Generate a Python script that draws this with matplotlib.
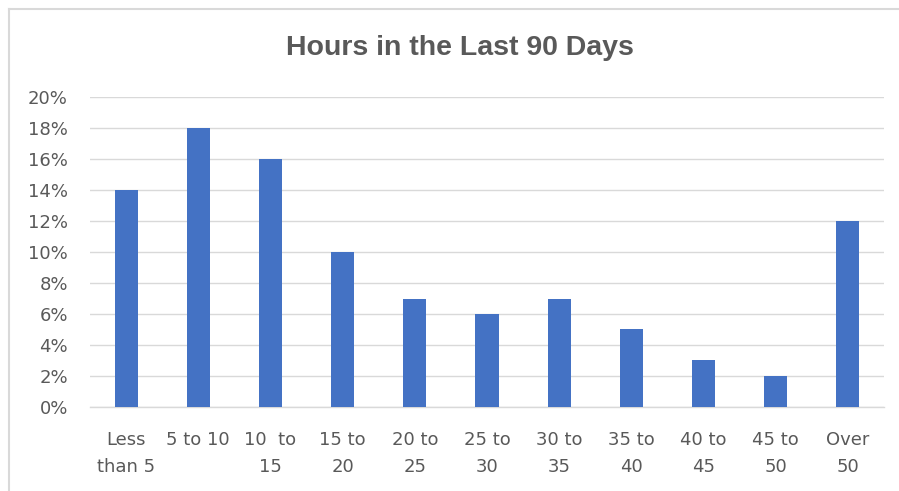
import matplotlib
matplotlib.use("Agg")
import matplotlib.pyplot as plt
from matplotlib.lines import Line2D
from matplotlib.ticker import PercentFormatter

categories = ["Less\nthan 5", "5 to 10", "10  to\n15", "15 to\n20", "20 to\n25",
              "25 to\n30", "30 to\n35", "35 to\n40", "40 to\n45", "45 to\n50", "Over\n50"]
shares = [0.14, 0.18, 0.16, 0.10, 0.07, 0.06, 0.07, 0.05, 0.03, 0.02, 0.12]
y_ticks = [0.00, 0.02, 0.04, 0.06, 0.08, 0.10, 0.12, 0.14, 0.16, 0.18, 0.20]

grey = "#595959"

fig = plt.figure(figsize=(8.99, 4.91), dpi=100)
ax = fig.add_axes([0.1001, 0.1711, 0.8832, 0.6313])

x = list(range(len(categories)))
ax.bar(x, shares, width=0.32, color="#4472C4", zorder=3)

ax.set_xlim(-0.5, len(categories) - 0.5)
ax.set_ylim(0, 0.20)
ax.set_yticks(y_ticks)
ax.yaxis.set_major_formatter(PercentFormatter(1.0, decimals=0))
ax.set_xticks(x)
ax.set_xticklabels(categories, linespacing=1.65)

ax.grid(axis="y", color="#D9D9D9", linewidth=1, zorder=0)
for side in ["top", "right", "left"]:
    ax.spines[side].set_visible(False)
ax.spines["bottom"].set_color("#D9D9D9")
ax.spines["bottom"].set_linewidth(1)
ax.tick_params(axis="both", length=0, colors=grey, labelsize=13)
ax.tick_params(axis="y", pad=16)
ax.tick_params(axis="x", pad=17)
for lbl in ax.get_xticklabels() + ax.get_yticklabels():
    lbl.set_family("DejaVu Sans")

fig.text(0.512, 0.902, "Hours in the Last 90 Days", ha="center", va="center",
         fontsize=20.5, fontweight="bold", color=grey,
         family=["Liberation Sans", "DejaVu Sans"])

# outer chart border (only top and left edges are visible in the crop)
fig.add_artist(Line2D([8.5 / 899, 1], [1 - 9 / 491, 1 - 9 / 491], transform=fig.transFigure,
                      color="#D9D9D9", linewidth=1.5))
fig.add_artist(Line2D([8.5 / 899, 8.5 / 899], [0, 1 - 9 / 491], transform=fig.transFigure,
                      color="#D9D9D9", linewidth=1.5))

fig.savefig("out.png", dpi=100)
